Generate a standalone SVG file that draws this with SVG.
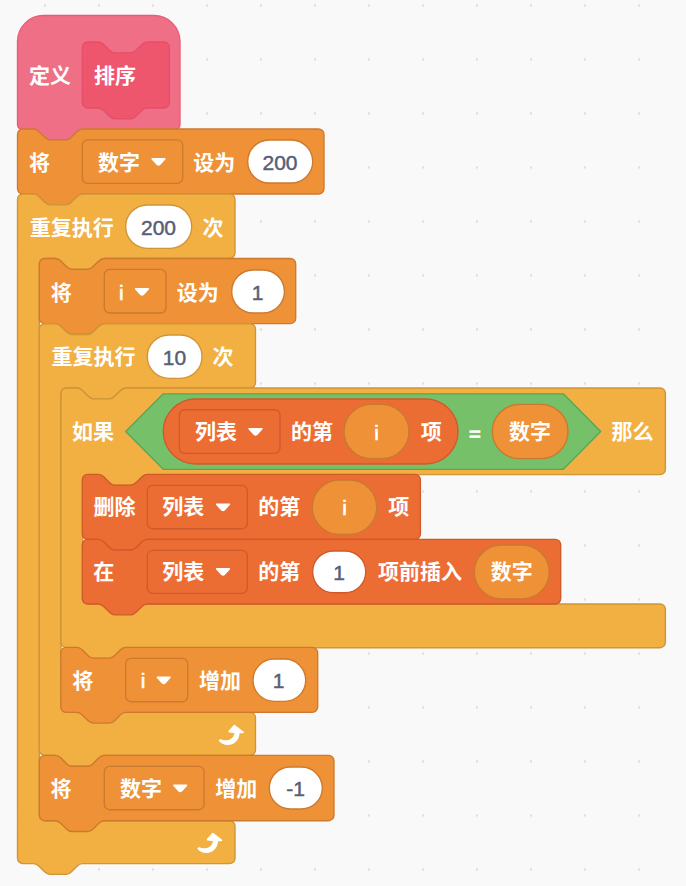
<svg xmlns="http://www.w3.org/2000/svg" width="686" height="886" viewBox="0 0 686 886">
<defs>
<style>
.t{font-family:"Noto Sans CJK SC","Noto Sans",sans-serif;font-size:21px;font-weight:700;fill:#fff;text-anchor:middle;dominant-baseline:central;transform:translateY(-0.8px)}
.n{font-family:"Liberation Sans",Arial,sans-serif;font-size:21px;fill:#575e75;stroke:#575e75;stroke-width:.45;text-anchor:middle;dominant-baseline:central}
.m{font-family:"Liberation Sans",Arial,sans-serif;font-size:21px;fill:#fff;stroke:#fff;stroke-width:.6;text-anchor:middle;dominant-baseline:central}
.var{fill:#ee9137;stroke:#cc7a2f;stroke-width:1.35}
.ctl{fill:#f2af42;stroke:#cf9537;stroke-width:1.35}
.lst{fill:#ec6d34;stroke:#cf5a2a;stroke-width:1.35}
.dv{fill:#ee9137;stroke:#cc7a2f;stroke-width:1.35}
.dl{fill:#ec6d34;stroke:#cf5a2a;stroke-width:1.35}
.iv{fill:#fff;stroke:#cc7a2f;stroke-width:1.35}
.ic{fill:#fff;stroke:#cf9537;stroke-width:1.35}
.il{fill:#fff;stroke:#cf5a2a;stroke-width:1.35}
.rv{fill:#ee9137;stroke:#c87a30;stroke-width:1.35}
.arr{fill:#fff}
</style>
<path id="tri" d="M-6.6,-4 H6.6 Q7.6,-3.4 6.8,-2.4 L1.8,3 Q0,4.4 -1.8,3 L-6.8,-2.4 Q-7.6,-3.4 -6.6,-4Z"/>
<path id="loop" d="M3,-9.2 Q3.8,-9.4 4.6,-8.6 L12.6,-2.2 Q13.6,-1 12,-0.8 L8.6,-0.8 C8.4,5.8 3,11.4 -3.5,11 C-7,10.8 -10.5,9.4 -12,7 C-12.4,5.8 -11.5,5 -10,5.2 C-6,7.2 1.5,7.4 3.6,-0.8 L-1.8,-1.4 Q-3.4,-1.8 -2.4,-3.2 Z"/>
<pattern id="g" x="45" y="5.5" width="54" height="54" patternUnits="userSpaceOnUse"><circle cx="0" cy="0" r="1.2" fill="#dddddd"/><circle cx="54" cy="0" r="1.2" fill="#dddddd"/><circle cx="0" cy="54" r="1.2" fill="#dddddd"/><circle cx="54" cy="54" r="1.2" fill="#dddddd"/></pattern>
</defs>
<rect width="686" height="886" fill="#f9f9f9"/>
<rect width="686" height="886" fill="url(#g)"/>

<g id="connectors"></g>

<g id="hat">
<path d="M17.5,41.5 a26,26 0 0 1 26,-26 H154 a26,26 0 0 1 26,26 V124.4 a5.4,5.4 0 0 1 -5.4,5.4 H82.3 c-2.7,0 -4,1.35 -5.4,2.7 l-5.4,5.4 c-1.35,1.35 -2.7,2.7 -5.4,2.7 h-16.2 c-2.7,0 -4,-1.35 -5.4,-2.7 l-5.4,-5.4 c-1.35,-1.35 -2.7,-2.7 -5.4,-2.7 H22.9 a5.4,5.4 0 0 1 -5.4,-5.4 Z" fill="#ef7086" stroke="#ec5b75" stroke-width="1.35"/>
<path d="M82.3,47.4 a5.4,5.4 0 0 1 5.4,-5.4 H98.5 c2.7,0 4,1.35 5.4,2.7 l5.4,5.4 c1.35,1.35 2.7,2.7 5.4,2.7 h16.2 c2.7,0 4,-1.35 5.4,-2.7 l5.4,-5.4 c1.35,-1.35 2.7,-2.7 5.4,-2.7 H164 a5.4,5.4 0 0 1 5.4,5.4 V102.6 a5.4,5.4 0 0 1 -5.4,5.4 H147 c-2.7,0 -4,1.35 -5.4,2.7 l-5.4,5.4 c-1.35,1.35 -2.7,2.7 -5.4,2.7 h-16.2 c-2.7,0 -4,-1.35 -5.4,-2.7 l-5.4,-5.4 c-1.35,-1.35 -2.7,-2.7 -5.4,-2.7 H87.7 a5.4,5.4 0 0 1 -5.4,-5.4 Z" fill="#ee566e" stroke="#e84e68" stroke-width="1.35"/>
<text class="t" x="50" y="75">定义</text>
<text class="t" x="115" y="75">排序</text>
</g>

<g id="set-num">
<path class="var" d="M17.5,134.4 a5.4,5.4 0 0 1 5.4,-5.4 H33.7 c2.7,0 4,1.35 5.4,2.7 l5.4,5.4 c1.35,1.35 2.7,2.7 5.4,2.7 h16.2 c2.7,0 4,-1.35 5.4,-2.7 l5.4,-5.4 c1.35,-1.35 2.7,-2.7 5.4,-2.7 H318.6 a5.4,5.4 0 0 1 5.4,5.4 V188.6 a5.4,5.4 0 0 1 -5.4,5.4 H82.3 c-2.7,0 -4,1.35 -5.4,2.7 l-5.4,5.4 c-1.35,1.35 -2.7,2.7 -5.4,2.7 h-16.2 c-2.7,0 -4,-1.35 -5.4,-2.7 l-5.4,-5.4 c-1.35,-1.35 -2.7,-2.7 -5.4,-2.7 H22.9 a5.4,5.4 0 0 1 -5.4,-5.4 Z"/>
<text class="t" x="39.5" y="162">将</text>
<rect class="dv" x="82.3" y="139.8" width="100.4" height="43.6" rx="5.4"/>
<text class="t" x="119" y="162">数字</text>
<use href="#tri" x="158.5" y="162" class="arr"/>
<text class="t" x="214.3" y="162">设为</text>
<rect class="iv" x="247.7" y="140" width="65" height="43" rx="21.5"/>
<text class="n" x="280" y="162">200</text>
</g>

<g id="repeat-200">
<path class="ctl" d="M17.5,199.4 a5.4,5.4 0 0 1 5.4,-5.4 H33.7 c2.7,0 4,1.35 5.4,2.7 l5.4,5.4 c1.35,1.35 2.7,2.7 5.4,2.7 h16.2 c2.7,0 4,-1.35 5.4,-2.7 l5.4,-5.4 c1.35,-1.35 2.7,-2.7 5.4,-2.7 H229.6 a5.4,5.4 0 0 1 5.4,5.4 V253 a5.4,5.4 0 0 1 -5.4,5.4 H104 c-2.7,0 -4,1.35 -5.4,2.7 l-5.4,5.4 c-1.35,1.35 -2.7,2.7 -5.4,2.7 h-16.2 c-2.7,0 -4,-1.35 -5.4,-2.7 l-5.4,-5.4 c-1.35,-1.35 -2.7,-2.7 -5.4,-2.7 H44.7 a5.4,5.4 0 0 0 -5.4,5.4 V815.3 a5.4,5.4 0 0 0 5.4,5.4 H229.6 a5.4,5.4 0 0 1 5.4,5.4 V858.2 a5.4,5.4 0 0 1 -5.4,5.4 H82.3 c-2.7,0 -4,1.35 -5.4,2.7 l-5.4,5.4 c-1.35,1.35 -2.7,2.7 -5.4,2.7 h-16.2 c-2.7,0 -4,-1.35 -5.4,-2.7 l-5.4,-5.4 c-1.35,-1.35 -2.7,-2.7 -5.4,-2.7 H22.9 a5.4,5.4 0 0 1 -5.4,-5.4 Z"/>
<text class="t" x="71.7" y="227">重复执行</text>
<rect class="ic" x="125.7" y="205" width="66" height="43.3" rx="21.6"/>
<text class="n" x="158.5" y="227">200</text>
<text class="t" x="213" y="227">次</text>
<use href="#loop" x="209.5" y="842" class="arr"/>
</g>

<g id="set-i">
<path class="var" d="M39.3,263.9 a5.4,5.4 0 0 1 5.4,-5.4 H55.5 c2.7,0 4,1.35 5.4,2.7 l5.4,5.4 c1.35,1.35 2.7,2.7 5.4,2.7 h16.2 c2.7,0 4,-1.35 5.4,-2.7 l5.4,-5.4 c1.35,-1.35 2.7,-2.7 5.4,-2.7 H290.3 a5.4,5.4 0 0 1 5.4,5.4 V318.3 a5.4,5.4 0 0 1 -5.4,5.4 H104.1 c-2.7,0 -4,1.35 -5.4,2.7 l-5.4,5.4 c-1.35,1.35 -2.7,2.7 -5.4,2.7 h-16.2 c-2.7,0 -4,-1.35 -5.4,-2.7 l-5.4,-5.4 c-1.35,-1.35 -2.7,-2.7 -5.4,-2.7 H44.7 a5.4,5.4 0 0 1 -5.4,-5.4 Z"/>
<text class="t" x="61.2" y="292">将</text>
<rect class="dv" x="104.3" y="269.4" width="61.7" height="43.6" rx="5.4"/>
<text class="m" x="121.3" y="292">i</text>
<use href="#tri" x="142" y="292" class="arr"/>
<text class="t" x="197.7" y="292">设为</text>
<rect class="iv" x="231.7" y="270" width="52.7" height="43" rx="21.5"/>
<text class="n" x="257.7" y="292">1</text>
</g>

<g id="repeat-10">
<path class="ctl" d="M39.3,329.1 a5.4,5.4 0 0 1 5.4,-5.4 H55.5 c2.7,0 4,1.35 5.4,2.7 l5.4,5.4 c1.35,1.35 2.7,2.7 5.4,2.7 h16.2 c2.7,0 4,-1.35 5.4,-2.7 l5.4,-5.4 c1.35,-1.35 2.7,-2.7 5.4,-2.7 H250.1 a5.4,5.4 0 0 1 5.4,5.4 V382.6 a5.4,5.4 0 0 1 -5.4,5.4 H125.7 c-2.7,0 -4,1.35 -5.4,2.7 l-5.4,5.4 c-1.35,1.35 -2.7,2.7 -5.4,2.7 h-16.2 c-2.7,0 -4,-1.35 -5.4,-2.7 l-5.4,-5.4 c-1.35,-1.35 -2.7,-2.7 -5.4,-2.7 H66.4 a5.4,5.4 0 0 0 -5.4,5.4 V706.9 a5.4,5.4 0 0 0 5.4,5.4 H250.1 a5.4,5.4 0 0 1 5.4,5.4 V750 a5.4,5.4 0 0 1 -5.4,5.4 H104.1 c-2.7,0 -4,1.35 -5.4,2.7 l-5.4,5.4 c-1.35,1.35 -2.7,2.7 -5.4,2.7 h-16.2 c-2.7,0 -4,-1.35 -5.4,-2.7 l-5.4,-5.4 c-1.35,-1.35 -2.7,-2.7 -5.4,-2.7 H44.7 a5.4,5.4 0 0 1 -5.4,-5.4 Z"/>
<text class="t" x="93.4" y="356">重复执行</text>
<rect class="ic" x="147.3" y="335" width="54.7" height="43.3" rx="21.6"/>
<text class="n" x="174.5" y="357">10</text>
<text class="t" x="223" y="356">次</text>
<use href="#loop" x="231" y="734" class="arr"/>
</g>

<g id="if">
<path class="ctl" d="M61,393.4 a5.4,5.4 0 0 1 5.4,-5.4 H77.2 c2.7,0 4,1.35 5.4,2.7 l5.4,5.4 c1.35,1.35 2.7,2.7 5.4,2.7 h16.2 c2.7,0 4,-1.35 5.4,-2.7 l5.4,-5.4 c1.35,-1.35 2.7,-2.7 5.4,-2.7 H660 a5.4,5.4 0 0 1 5.4,5.4 V469.3 a5.4,5.4 0 0 1 -5.4,5.4 H147.4 c-2.7,0 -4,1.35 -5.4,2.7 l-5.4,5.4 c-1.35,1.35 -2.7,2.7 -5.4,2.7 h-16.2 c-2.7,0 -4,-1.35 -5.4,-2.7 l-5.4,-5.4 c-1.35,-1.35 -2.7,-2.7 -5.4,-2.7 H88.1 a5.4,5.4 0 0 0 -5.4,5.4 V598.6 a5.4,5.4 0 0 0 5.4,5.4 H660 a5.4,5.4 0 0 1 5.4,5.4 V642.3 a5.4,5.4 0 0 1 -5.4,5.4 H125.8 c-2.7,0 -4,1.35 -5.4,2.7 l-5.4,5.4 c-1.35,1.35 -2.7,2.7 -5.4,2.7 h-16.2 c-2.7,0 -4,-1.35 -5.4,-2.7 l-5.4,-5.4 c-1.35,-1.35 -2.7,-2.7 -5.4,-2.7 H66.4 a5.4,5.4 0 0 1 -5.4,-5.4 Z"/>
<text class="t" x="93" y="431">如果</text>
<path d="M125.7,431.5 L163.3,393.8 H563.3 L600.7,431.5 L563.3,469.3 H163.3 Z" fill="#76c06a" stroke="#5ea453" stroke-width="1.35" stroke-linejoin="round"/>
<text class="t" x="632.5" y="431">那么</text>
<text class="m" x="475" y="433">=</text>
</g>

<g id="item-reporter">
<rect class="lst" x="163.3" y="399" width="294.7" height="65" rx="32.5"/>
<rect class="dl" x="179.3" y="409.7" width="100.7" height="43.6" rx="5.4"/>
<text class="t" x="216" y="431">列表</text>
<use href="#tri" x="255.5" y="432" class="arr"/>
<text class="t" x="312" y="431">的第</text>
<rect class="rv" x="344" y="404.3" width="65" height="54.4" rx="27.2"/>
<text class="m" x="376.7" y="432">i</text>
<text class="t" x="431.2" y="431">项</text>
</g>
<g id="number-reporter">
<rect class="rv" x="492.3" y="404.3" width="75.7" height="54.4" rx="27.2"/>
<text class="t" x="530" y="431">数字</text>
</g>

<g id="delete">
<path class="lst" d="M82.3,479.7 a5.4,5.4 0 0 1 5.4,-5.4 H98.5 c2.7,0 4,1.35 5.4,2.7 l5.4,5.4 c1.35,1.35 2.7,2.7 5.4,2.7 h16.2 c2.7,0 4,-1.35 5.4,-2.7 l5.4,-5.4 c1.35,-1.35 2.7,-2.7 5.4,-2.7 H415 a5.4,5.4 0 0 1 5.4,5.4 V533.9 a5.4,5.4 0 0 1 -5.4,5.4 H147.1 c-2.7,0 -4,1.35 -5.4,2.7 l-5.4,5.4 c-1.35,1.35 -2.7,2.7 -5.4,2.7 h-16.2 c-2.7,0 -4,-1.35 -5.4,-2.7 l-5.4,-5.4 c-1.35,-1.35 -2.7,-2.7 -5.4,-2.7 H87.7 a5.4,5.4 0 0 1 -5.4,-5.4 Z"/>
<text class="t" x="114.5" y="506">删除</text>
<rect class="dl" x="147.3" y="485.3" width="100" height="43.4" rx="5.4"/>
<text class="t" x="183.3" y="506">列表</text>
<use href="#tri" x="223" y="507.5" class="arr"/>
<text class="t" x="279.3" y="506">的第</text>
<rect class="rv" x="312.3" y="480" width="64.4" height="54.3" rx="27.1"/>
<text class="m" x="344.5" y="507">i</text>
<text class="t" x="398.7" y="506">项</text>
</g>

<g id="insert">
<path class="lst" d="M82.3,544.7 a5.4,5.4 0 0 1 5.4,-5.4 H98.5 c2.7,0 4,1.35 5.4,2.7 l5.4,5.4 c1.35,1.35 2.7,2.7 5.4,2.7 h16.2 c2.7,0 4,-1.35 5.4,-2.7 l5.4,-5.4 c1.35,-1.35 2.7,-2.7 5.4,-2.7 H555.3 a5.4,5.4 0 0 1 5.4,5.4 V598.6 a5.4,5.4 0 0 1 -5.4,5.4 H147.1 c-2.7,0 -4,1.35 -5.4,2.7 l-5.4,5.4 c-1.35,1.35 -2.7,2.7 -5.4,2.7 h-16.2 c-2.7,0 -4,-1.35 -5.4,-2.7 l-5.4,-5.4 c-1.35,-1.35 -2.7,-2.7 -5.4,-2.7 H87.7 a5.4,5.4 0 0 1 -5.4,-5.4 Z"/>
<text class="t" x="103.7" y="571">在</text>
<rect class="dl" x="147.3" y="550.3" width="100" height="43" rx="5.4"/>
<text class="t" x="183.3" y="571">列表</text>
<use href="#tri" x="223" y="572" class="arr"/>
<text class="t" x="279.3" y="571">的第</text>
<rect class="il" x="312.7" y="551" width="53" height="41.7" rx="20.8"/>
<text class="n" x="339" y="572">1</text>
<text class="t" x="420" y="571">项前插入</text>
<rect class="rv" x="474.3" y="545" width="75" height="54" rx="27"/>
<text class="t" x="511.7" y="571">数字</text>
</g>

<g id="change-i">
<path class="var" d="M60.8,652.7 a5.4,5.4 0 0 1 5.4,-5.4 H77 c2.7,0 4,1.35 5.4,2.7 l5.4,5.4 c1.35,1.35 2.7,2.7 5.4,2.7 h16.2 c2.7,0 4,-1.35 5.4,-2.7 l5.4,-5.4 c1.35,-1.35 2.7,-2.7 5.4,-2.7 H312.3 a5.4,5.4 0 0 1 5.4,5.4 V706.9 a5.4,5.4 0 0 1 -5.4,5.4 H125.6 c-2.7,0 -4,1.35 -5.4,2.7 l-5.4,5.4 c-1.35,1.35 -2.7,2.7 -5.4,2.7 h-16.2 c-2.7,0 -4,-1.35 -5.4,-2.7 l-5.4,-5.4 c-1.35,-1.35 -2.7,-2.7 -5.4,-2.7 H66.2 a5.4,5.4 0 0 1 -5.4,-5.4 Z"/>
<text class="t" x="82.7" y="680">将</text>
<rect class="dv" x="125.7" y="658.3" width="62" height="43.4" rx="5.4"/>
<text class="m" x="143" y="680.5">i</text>
<use href="#tri" x="163.7" y="680.5" class="arr"/>
<text class="t" x="220" y="680">增加</text>
<rect class="iv" x="253" y="659" width="52.7" height="42.3" rx="21.1"/>
<text class="n" x="278.5" y="680.5">1</text>
</g>

<g id="change-num">
<path class="var" d="M39.3,760.8 a5.4,5.4 0 0 1 5.4,-5.4 H55.5 c2.7,0 4,1.35 5.4,2.7 l5.4,5.4 c1.35,1.35 2.7,2.7 5.4,2.7 h16.2 c2.7,0 4,-1.35 5.4,-2.7 l5.4,-5.4 c1.35,-1.35 2.7,-2.7 5.4,-2.7 H328.6 a5.4,5.4 0 0 1 5.4,5.4 V815.3 a5.4,5.4 0 0 1 -5.4,5.4 H104.1 c-2.7,0 -4,1.35 -5.4,2.7 l-5.4,5.4 c-1.35,1.35 -2.7,2.7 -5.4,2.7 h-16.2 c-2.7,0 -4,-1.35 -5.4,-2.7 l-5.4,-5.4 c-1.35,-1.35 -2.7,-2.7 -5.4,-2.7 H44.7 a5.4,5.4 0 0 1 -5.4,-5.4 Z"/>
<text class="t" x="61" y="788">将</text>
<rect class="dv" x="104.3" y="766.3" width="99.7" height="43.4" rx="5.4"/>
<text class="t" x="141" y="788">数字</text>
<use href="#tri" x="180.2" y="788.5" class="arr"/>
<text class="t" x="236.3" y="788">增加</text>
<rect class="iv" x="269.3" y="767" width="53" height="42" rx="21"/>
<text class="n" x="295.5" y="788.5">-1</text>
</g>
</svg>
